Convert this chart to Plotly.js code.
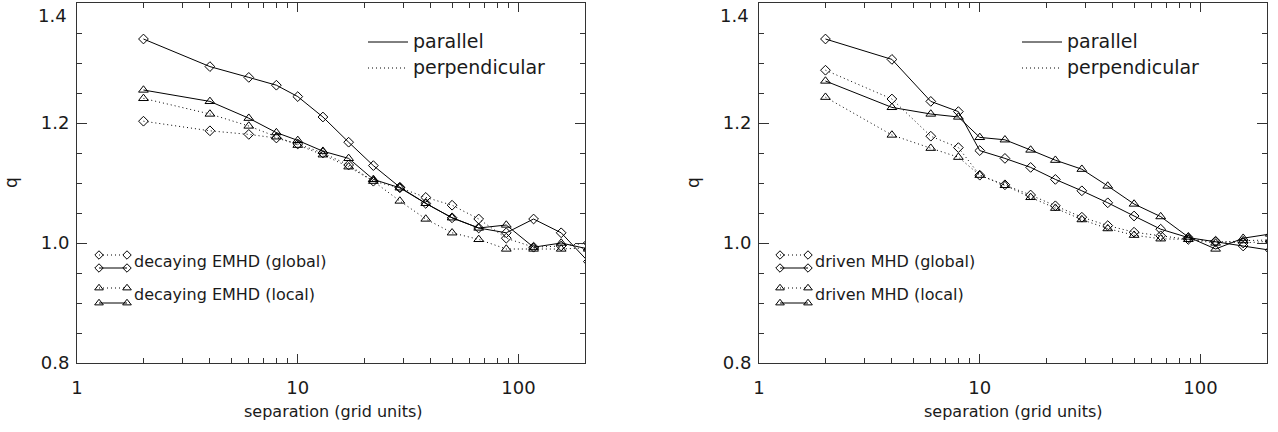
<!DOCTYPE html>
<html>
<head>
<meta charset="utf-8">
<script src="https://cdn.plot.ly/plotly-3.0.1.min.js"></script>
<style>html,body{margin:0;padding:0;background:#fff;}#plot{width:1278px;height:432px;}</style>
</head>
<body>
<div id="plot"></div>
<script>
// separation (grid units)
const separation = [2, 4, 6, 8, 10, 13, 17, 22, 29, 38, 50, 66, 88, 117, 156, 207];

// Left panel: decaying EMHD
const emhdGlobalPar  = [1.340, 1.294, 1.276, 1.263, 1.244, 1.210, 1.168, 1.129, 1.093, 1.066, 1.042, 1.025, 1.017, 1.040, 1.017, 0.969];
const emhdGlobalPerp = [1.203, 1.187, 1.181, 1.175, 1.165, 1.150, 1.130, 1.103, 1.092, 1.076, 1.063, 1.040, 1.008, 0.993, 0.995, 1.000];
const emhdLocalPar   = [1.255, 1.236, 1.208, 1.184, 1.171, 1.153, 1.141, 1.106, 1.092, 1.066, 1.042, 1.025, 1.030, 0.993, 1.000, 0.990];
const emhdLocalPerp  = [1.241, 1.215, 1.195, 1.177, 1.163, 1.147, 1.127, 1.103, 1.070, 1.040, 1.017, 1.006, 0.990, 0.990, 0.990, 0.992];

// Right panel: driven MHD
const mhdGlobalPar  = [1.340, 1.306, 1.236, 1.219, 1.154, 1.141, 1.126, 1.106, 1.087, 1.067, 1.045, 1.023, 1.009, 1.002, 0.995, 0.988];
const mhdGlobalPerp = [1.288, 1.240, 1.178, 1.159, 1.113, 1.097, 1.080, 1.062, 1.043, 1.029, 1.018, 1.012, 1.006, 1.003, 1.000, 1.003];
const mhdLocalPar   = [1.270, 1.226, 1.215, 1.210, 1.176, 1.172, 1.155, 1.138, 1.123, 1.095, 1.065, 1.044, 1.010, 0.990, 1.008, 1.015];
const mhdLocalPerp  = [1.243, 1.180, 1.158, 1.143, 1.113, 1.096, 1.076, 1.058, 1.039, 1.024, 1.013, 1.007, 1.006, 1.000, 1.004, 1.005];

const xTickVals = [1, 10, 100];
const xTickText = ['1', '10', '100'];
const xMinorVals = [2,3,4,5,6,7,8,9,20,30,40,50,60,70,80,90,200];
const yTickVals = [0.8, 1.0, 1.2];
const yTickText = ['0.8', '1.0', '1.2'];
const yTopLabel = '1.4';

const W = 1278, H = 432;
const FONT = 'DejaVu Sans, sans-serif';
const TXT = '#1a1a1a';
const DOT = '1px,3px';

function series(x, y, dash, symbol, xa, ya) {
  return {
    x: x, y: y, xaxis: xa, yaxis: ya, type: 'scatter', mode: 'lines+markers',
    line: {color: '#000', width: 1, dash: dash === 'dot' ? DOT : dash},
    marker: {symbol: symbol, size: symbol.indexOf('triangle') === 0 ? 8.5 : 7.5, color: '#000', line: {color: '#000', width: 1}},
    cliponaxis: true, showlegend: false, hoverinfo: 'skip'
  };
}

const traces = [
  series(separation, emhdGlobalPerp, 'dot', 'diamond-open', 'x', 'y'),
  series(separation, emhdLocalPerp, 'dot', 'triangle-up-open', 'x', 'y'),
  series(separation, emhdLocalPar, 'solid', 'triangle-up-open', 'x', 'y'),
  series(separation, emhdGlobalPar, 'solid', 'diamond-open', 'x', 'y'),
  series(separation, mhdGlobalPerp, 'dot', 'diamond-open', 'x2', 'y2'),
  series(separation, mhdLocalPerp, 'dot', 'triangle-up-open', 'x2', 'y2'),
  series(separation, mhdLocalPar, 'solid', 'triangle-up-open', 'x2', 'y2'),
  series(separation, mhdGlobalPar, 'solid', 'diamond-open', 'x2', 'y2')
];

// legend glyphs on a pixel overlay axis
function glyph(x0, x1, y, dash, symbol, marker) {
  return {
    x: [x0, x1], y: [y, y], xaxis: 'x3', yaxis: 'y3', type: 'scatter',
    mode: marker ? 'lines+markers' : 'lines',
    line: {color: '#000', width: 1, dash: dash === 'dot' ? DOT : dash},
    marker: {symbol: symbol || 'circle', size: (symbol || '').indexOf('triangle') === 0 ? 7.5 : 6.5, color: '#000', line: {color: '#000', width: 1}},
    showlegend: false, hoverinfo: 'skip'
  };
}
const panels = [
  {axisX: 77, styleX0: 368, label: 'decaying EMHD', keyX0: 99},
  {axisX: 759, styleX0: 1022, label: 'driven MHD', keyX0: 780}
];
const annotations = [];
panels.forEach(p => {
  traces.push(glyph(p.styleX0, p.styleX0 + 40, 42, 'solid', null, false));
  traces.push(glyph(p.styleX0, p.styleX0 + 40, 68, 'dot', null, false));
  traces.push(glyph(p.keyX0, p.keyX0 + 28, 255, 'dot', 'diamond-open', true));
  traces.push(glyph(p.keyX0, p.keyX0 + 28, 268, 'solid', 'diamond-open', true));
  traces.push(glyph(p.keyX0, p.keyX0 + 28, 288, 'dot', 'triangle-up-open', true));
  traces.push(glyph(p.keyX0, p.keyX0 + 28, 303, 'solid', 'triangle-up-open', true));
  const t = (x, y, s, size) => ({x: x, y: y, xref: 'x3', yref: 'y3', text: s, showarrow: false,
    xanchor: 'left', yanchor: 'middle', font: {family: FONT, size: size, color: TXT}});
  annotations.push(t(p.styleX0 + 43, 41, 'parallel', 19));
  annotations.push(t(p.styleX0 + 43, 67, 'perpendicular', 19));
  annotations.push(t(p.keyX0 + 33, 261, p.label + ' (global)', 16));
  annotations.push(t(p.keyX0 + 33, 294, p.label + ' (local)', 16));
  annotations.push({x: p.axisX - 8, y: 15, xref: 'x3', yref: 'y3', text: yTopLabel, showarrow: false,
    xanchor: 'right', yanchor: 'middle', font: {family: FONT, size: 18, color: TXT}});
});
annotations.push({x: 11, y: 183, xref: 'x3', yref: 'y3', text: 'q', textangle: -90, showarrow: false,
  font: {family: FONT, size: 17, color: TXT}});
annotations.push({x: 693, y: 183, xref: 'x3', yref: 'y3', text: 'q', textangle: -90, showarrow: false,
  font: {family: FONT, size: 17, color: TXT}});
annotations.push({x: 333, y: 411, xref: 'x3', yref: 'y3', text: 'separation (grid units)', showarrow: false,
  font: {family: FONT, size: 16, color: TXT}});
annotations.push({x: 1013, y: 411, xref: 'x3', yref: 'y3', text: 'separation (grid units)', showarrow: false,
  font: {family: FONT, size: 16, color: TXT}});

function xAxis(d0, d1, anchor) {
  return {
    type: 'log', range: [0, Math.log10(200)], domain: [d0 / W, d1 / W], anchor: anchor,
    showline: true, linecolor: '#333', linewidth: 1, mirror: 'ticks',
    ticks: 'inside', ticklen: 9, tickcolor: '#333', tickwidth: 1,
    tickvals: xTickVals, ticktext: xTickText, ticklabelstandoff: 8,
    minor: {tickvals: xMinorVals, ticks: 'inside', ticklen: 5, tickcolor: '#333', showgrid: false},
    showgrid: false, zeroline: false, automargin: false,
    tickfont: {family: FONT, size: 18, color: TXT}
  };
}
function yAxis(anchor) {
  return {
    range: [0.8, 1.4], domain: [1 - 363 / H, 1 - 3 / H], anchor: anchor,
    showline: true, linecolor: '#333', linewidth: 1, mirror: 'ticks',
    ticks: 'inside', ticklen: 10, tickcolor: '#333', tickwidth: 1,
    tickvals: yTickVals, ticktext: yTickText, ticklabelstandoff: 3,
    minor: {dtick: 0.05, ticks: 'inside', ticklen: 5, tickcolor: '#333', showgrid: false},
    showgrid: false, zeroline: false, automargin: false,
    tickfont: {family: FONT, size: 18, color: TXT}
  };
}

const layout = {
  width: W, height: H,
  margin: {l: 0, r: 0, t: 0, b: 0},
  paper_bgcolor: '#fff', plot_bgcolor: 'rgba(0,0,0,0)',
  showlegend: false,
  xaxis: xAxis(77, 585, 'y'),
  yaxis: yAxis('x'),
  xaxis2: xAxis(759, 1267, 'y2'),
  yaxis2: yAxis('x2'),
  xaxis3: {domain: [0, 1], range: [0, W], visible: false, anchor: 'y3', fixedrange: true},
  yaxis3: {domain: [0, 1], range: [H, 0], visible: false, anchor: 'x3', fixedrange: true},
  annotations: annotations
};

Plotly.newPlot('plot', traces, layout, {staticPlot: true, displayModeBar: false});
</script>
</body>
</html>
